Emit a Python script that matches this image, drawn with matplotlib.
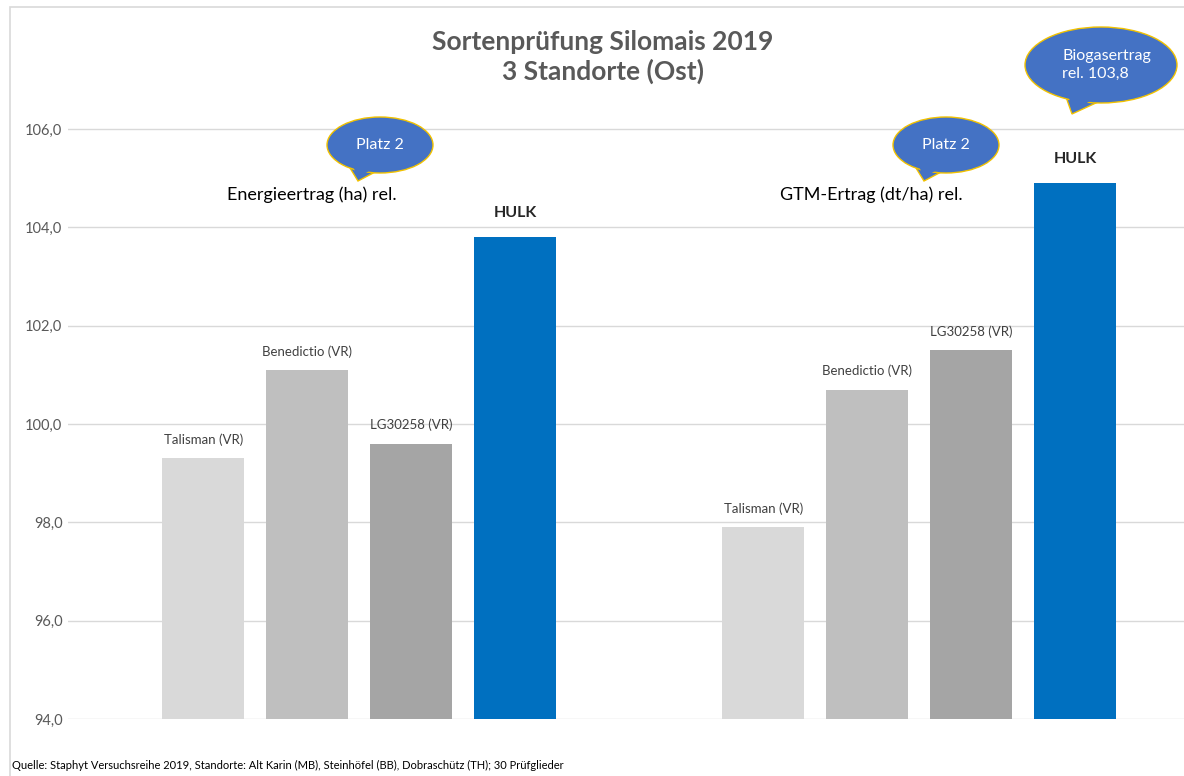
import matplotlib
matplotlib.use('Agg')
import matplotlib.pyplot as plt
from matplotlib.patches import Ellipse, Polygon, Rectangle

plt.rcParams['font.family'] = ['Lato', 'DejaVu Sans']

# Daten
gruppen = ['Energieertrag (ha) rel.', 'GTM-Ertrag (dt/ha) rel.']
sorten = ['Talisman (VR)', 'Benedictio (VR)', 'LG30258 (VR)', 'HULK']
energie = [99.3, 101.1, 99.6, 103.8]
gtm = [97.9, 100.7, 101.5, 104.9]
farben = ['#d9d9d9', '#bfbfbf', '#a5a5a5', '#0070c0']
y_ticks = [94, 96, 98, 100, 102, 104, 106]

W, H = 1184, 776
fig = plt.figure(figsize=(W / 100, H / 100), dpi=100)


def fx(px):
    return px / W


def fy(py):
    return 1 - py / H


# Rahmen
fig.patches.append(Rectangle((fx(10), fy(790)), fx(1200), 783 / H, transform=fig.transFigure,
                             fill=False, edgecolor='#d9d9d9', lw=1.2))

ax = fig.add_axes([fx(68), fy(719), fx(1184 - 68), (719 - 7) / H])

bw = 0.146
step = 0.1857
for g, werte in enumerate([energie, gtm]):
    for i, (s, v) in enumerate(zip(sorten, werte)):
        x = g + (i - 1.5) * step
        ax.bar(x, v - 94, bottom=94, width=bw, color=farben[i], zorder=2)
        if s == 'HULK':
            ax.text(x, v + 0.35, s, ha='center', va='bottom', fontsize=11.5, fontweight='bold', color='#262626')
        else:
            ax.text(x, v + 0.25, s, ha='center', va='bottom', fontsize=9.5, color='#404040')
    ax.text(g - 0.085, 104.5, gruppen[g], ha='center', va='bottom', fontsize=13, color='#000000')

ax.set_xlim(-0.52, 1.473)
ax.set_ylim(94, 108.48)
ax.set_yticks(y_ticks)
ax.set_yticklabels([f'{t:.1f}'.replace('.', ',') for t in y_ticks], fontsize=10.5, color='#595959')
ax.tick_params(axis='y', length=0, pad=4)
ax.set_xticks([])
ax.grid(axis='y', color='#d9d9d9', lw=1, zorder=0)
for sp in ax.spines.values():
    sp.set_visible(False)

# Titel
fig.text(fx(603), fy(57), 'Sortenprüfung Silomais 2019\n3 Standorte (Ost)', ha='center', va='center',
         fontsize=19, fontweight='bold', color='#595959', linespacing=1.2)


# Sprechblasen
def blase(cx, cy, w, h, base, tip, text, fs=11.5, tx=None):
    tail = Polygon([(fx(base[0]), fy(base[1])), (fx(base[2]), fy(base[3])),
                    (fx(tip[0]), fy(tip[1]))], closed=True, transform=fig.transFigure,
                   facecolor='#4472c4', edgecolor='#f2c200', lw=1, zorder=3)
    ell = Ellipse((fx(cx), fy(cy)), fx(w), h / H, transform=fig.transFigure,
                  facecolor='#4472c4', edgecolor='#f2c200', lw=1, zorder=3)
    fig.patches.append(tail)
    fig.patches.append(ell)
    cover = Polygon([(fx(base[0] + 2), fy(base[1] - 4)), (fx(base[2] - 2), fy(base[3] - 4)),
                     (fx(tip[0]), fy(tip[1] - 3))], closed=True, transform=fig.transFigure,
                    facecolor='#4472c4', edgecolor='none', zorder=4)
    fig.patches.append(cover)
    if tx is None:
        fig.text(fx(cx), fy(cy), text, ha='center', va='center', fontsize=fs, color='white',
                 zorder=5, linespacing=1.3)
    else:
        fig.text(fx(tx), fy(cy), text, ha='left', va='center', fontsize=fs, color='white',
                 zorder=5, linespacing=1.4)


blase(380, 145, 106, 56, (350, 168, 377, 171), (358, 181), 'Platz 2')
blase(946, 145, 106, 56, (916, 168, 943, 171), (924, 181), 'Platz 2')
blase(1101, 65, 152, 76, (1066, 97, 1098, 102), (1072, 114), 'Biogasertrag\nrel. 103,8', tx=1062)

# Quelle
fig.text(fx(12), fy(765), 'Quelle: Staphyt Versuchsreihe 2019, Standorte: Alt Karin (MB), Steinhöfel (BB), '
         'Dobraschütz (TH); 30 Prüfglieder', ha='left', va='center', fontsize=8, color='#000000')

fig.savefig('out.png', dpi=100)
